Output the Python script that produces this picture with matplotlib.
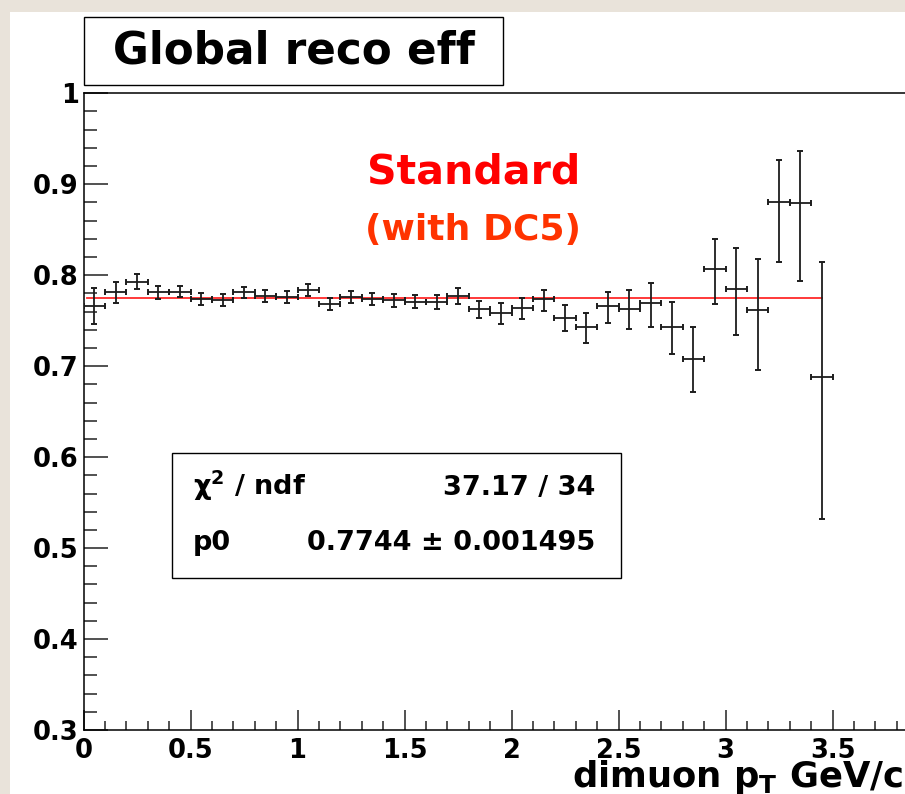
import matplotlib
matplotlib.use("Agg")
import matplotlib.pyplot as plt
from matplotlib.patches import Rectangle
from matplotlib.ticker import MultipleLocator, FuncFormatter

# ---- data: reconstruction efficiency vs dimuon pT (0.1 GeV/c bins) ----
pt_centres = [0.05, 0.15, 0.25, 0.35, 0.45, 0.55, 0.65, 0.75, 0.85, 0.95,
              1.05, 1.15, 1.25, 1.35, 1.45, 1.55, 1.65, 1.75, 1.85, 1.95,
              2.05, 2.15, 2.25, 2.35, 2.45, 2.55, 2.65, 2.75, 2.85, 2.95,
              3.05, 3.15, 3.25, 3.35, 3.45]
bin_half_width = 0.05

efficiency = [0.766, 0.781, 0.793, 0.781, 0.782, 0.774, 0.773, 0.781, 0.777, 0.776,
              0.784, 0.768, 0.776, 0.774, 0.7725, 0.771, 0.771, 0.777, 0.763, 0.758,
              0.764, 0.7736, 0.7535, 0.743, 0.766, 0.763, 0.769, 0.743, 0.708, 0.807,
              0.785, 0.762, 0.880, 0.879, 0.688]

err_high = [0.020, 0.0115, 0.008, 0.0068, 0.0065, 0.0064, 0.0064, 0.006, 0.0062, 0.0062,
            0.0066, 0.0066, 0.0064, 0.0065, 0.0067, 0.0069, 0.0073, 0.0084, 0.0092, 0.011,
            0.011, 0.0106, 0.0143, 0.0154, 0.015, 0.0212, 0.0227, 0.0271, 0.0348, 0.033,
            0.0447, 0.0557, 0.0466, 0.0575, 0.1267]
err_low = [0.020, 0.0115, 0.008, 0.0068, 0.0065, 0.0064, 0.0064, 0.006, 0.0062, 0.0062,
           0.0066, 0.0066, 0.0064, 0.0065, 0.0069, 0.0071, 0.0077, 0.0088, 0.0103, 0.0114,
           0.0125, 0.0128, 0.015, 0.0172, 0.0183, 0.022, 0.026, 0.0293, 0.0366, 0.0385,
           0.0509, 0.0659, 0.0659, 0.0857, 0.156]

# constant fit (pol0)
fit_p0 = 0.7744
fit_p0_err = 0.001495
fit_chi2 = 37.17
fit_ndf = 34
fit_range = [0.015, 3.45]

title_text = "Global reco eff"
xlabel_text = r"dimuon $\mathbf{p_{T}}$ GeV/c"
note_lines = ["Standard", "(with DC5)"]

# ---- figure layout (pixel helpers, origin top-left) ----
W, H = 905, 794
def fx(px):
    return px / W
def fy(py):
    return 1 - py / H

plt.rcParams["font.family"] = ["DejaVu Sans"]
plt.rcParams["font.weight"] = "bold"
plt.rcParams["mathtext.fontset"] = "dejavusans"

fig = plt.figure(figsize=(W / 100, H / 100), dpi=100, facecolor="#e9e3da")
fig.add_artist(Rectangle((fx(10), 0), 1, fy(12), transform=fig.transFigure,
                         facecolor="white", edgecolor="none", zorder=-10))

x0_px, x1_px = 83.5, 939.5
ytop_px, ybot_px = 93.3, 730
ax = fig.add_axes([fx(x0_px), fy(ybot_px), (x1_px - x0_px) / W, (ybot_px - ytop_px) / H])
ax.set_xlim(0, 4)
ax.set_ylim(0.3, 1.0)

for sp in ax.spines.values():
    sp.set_linewidth(1.1)
    sp.set_color("black")

ax.xaxis.set_major_locator(MultipleLocator(0.5))
ax.xaxis.set_minor_locator(MultipleLocator(0.1))
ax.yaxis.set_major_locator(MultipleLocator(0.1))
ax.yaxis.set_minor_locator(MultipleLocator(0.02))
fmt = FuncFormatter(lambda v, p: "%g" % round(v, 3))
ax.xaxis.set_major_formatter(fmt)
ax.yaxis.set_major_formatter(fmt)

ax.tick_params(axis="both", which="both", direction="in", top=False, right=False,
               color="#222222", width=1.1)
ax.tick_params(axis="y", which="major", length=17, pad=3.5, labelsize=18.5)
ax.tick_params(axis="y", which="minor", length=9.5)
ax.tick_params(axis="x", which="major", length=14.4, pad=6, labelsize=18.5)
ax.tick_params(axis="x", which="minor", length=6.7)
for lab in ax.get_xticklabels() + ax.get_yticklabels():
    lab.set_fontweight("bold")

# fit line
ax.plot(fit_range, [fit_p0, fit_p0], color="#ff2a2a", lw=1.3, zorder=2)

# data points with asymmetric errors
ax.errorbar(pt_centres, efficiency, yerr=[err_low, err_high], xerr=bin_half_width,
            fmt="none", ecolor="#1c1c1c", elinewidth=1.3, capsize=2.4, capthick=1.4,
            zorder=3)

# title box
fig.add_artist(Rectangle((fx(84), fy(85)), (503 - 84) / W, (85 - 17) / H,
                         transform=fig.transFigure, facecolor="white",
                         edgecolor="black", lw=1.0, zorder=5))
fig.text(fx(294), fy(63.3), title_text, ha="center", va="baseline",
         fontsize=31.5, fontweight="bold", zorder=6)

# red annotation
fig.text(fx(474), fy(183.3), note_lines[0], ha="center", va="baseline",
         fontsize=29.5, fontweight="bold", color="#ff0000", zorder=6)
fig.text(fx(473), fy(240), note_lines[1], ha="center", va="baseline",
         fontsize=26, fontweight="bold", color="#ff3300", zorder=6)

# fit statistics box
fig.add_artist(Rectangle((fx(172), fy(578)), (621 - 172) / W, (578 - 453) / H,
                         transform=fig.transFigure, facecolor="white",
                         edgecolor="black", lw=1.0, zorder=5))
fig.text(fx(193), fy(495), r"$\mathrm{\chi}^{\mathbf{2}}$ / ndf", ha="left", va="baseline",
         fontsize=19.5, fontweight="bold", zorder=6)
fig.text(fx(595), fy(495), "%.2f / %d" % (fit_chi2, fit_ndf), ha="right", va="baseline",
         fontsize=19.5, fontweight="bold", zorder=6)
fig.text(fx(193), fy(550), "p0", ha="left", va="baseline",
         fontsize=19.5, fontweight="bold", zorder=6)
fig.text(fx(595), fy(550), "%.4f \u00b1 %.6f" % (fit_p0, fit_p0_err), ha="right",
         va="baseline", fontsize=19.5, fontweight="bold", zorder=6)

# x-axis title
fig.text(fx(903), fy(787), xlabel_text, ha="right", va="baseline",
         fontsize=25.5, fontweight="bold", zorder=6)

fig.savefig("out.png", dpi=100, facecolor=fig.get_facecolor())
